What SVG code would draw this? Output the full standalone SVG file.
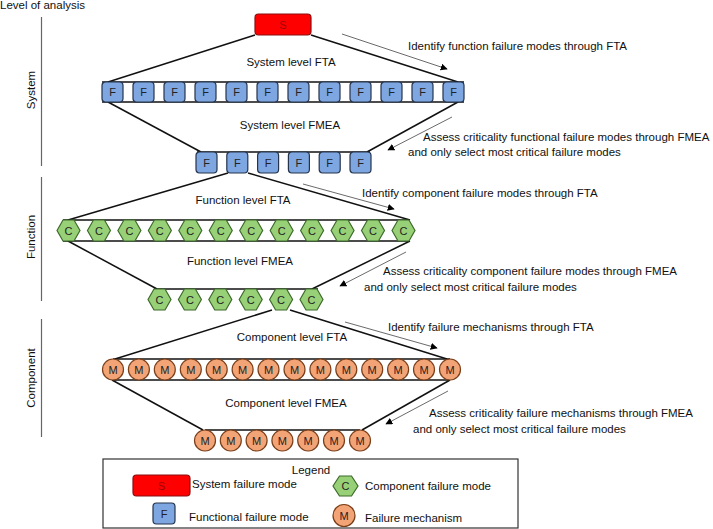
<svg xmlns="http://www.w3.org/2000/svg" width="713" height="529" viewBox="0 0 713 529">
<style>
text{font-family:"Liberation Sans",Arial,sans-serif;font-size:11.5px;fill:#111}
.mid{text-anchor:middle}
.lvl{stroke:#666;stroke-width:1.2}
.edge{stroke:#111;stroke-width:1.5;fill:none}
.arr{stroke:#444;stroke-width:0.8;fill:none;marker-end:url(#ah)}
.s{fill:#ff0000;stroke:#8a1010;stroke-width:1.2}
.st{fill:#a00000;font-size:11px}
.f{fill:#7ea6e0;stroke:#25344d;stroke-width:1.2}
.c{fill:#97d077;stroke:#3d6a2a;stroke-width:1.2}
.m{fill:#f3a477;stroke:#7a3e18;stroke-width:1.2}
.nt{font-size:11px;text-anchor:middle;fill:#222}
.leg{fill:#fff;stroke:#333;stroke-width:1.2}
</style>
<defs>
<marker id="ah" viewBox="0 0 10 10" refX="9" refY="5" markerWidth="7" markerHeight="7" markerUnits="userSpaceOnUse" orient="auto">
<path d="M0,0 L10,5 L0,10 z" fill="#000"/>
</marker>
<rect id="fbox" width="21" height="20" rx="3.5" class="f"/>
<rect id="fbox2" width="21" height="21" rx="3.5" class="f"/>
<polygon id="hex" points="0,10.5 6,0 17,0 23,10.5 17,21 6,21" class="c"/>
<circle id="circ" r="10.5" class="m"/>
</defs>

<g id="level-labels">
<text x="0" y="9">Level of analysis</text>
<line class="lvl" x1="41.5" y1="17" x2="41.5" y2="166"/>
<line class="lvl" x1="41.5" y1="177" x2="41.5" y2="301"/>
<line class="lvl" x1="41.5" y1="319" x2="41.5" y2="437"/>
<text class="mid" transform="translate(35,90) rotate(-90)">System</text>
<text class="mid" transform="translate(35,237) rotate(-90)">Function</text>
<text class="mid" transform="translate(35,378) rotate(-90)">Component</text>
</g>

<g id="connectors">
<line class="edge" x1="255" y1="35" x2="108" y2="82"/>
<line class="edge" x1="311" y1="35" x2="458" y2="82"/>
<line class="edge" x1="102" y1="82" x2="464" y2="82"/>
<line class="edge" x1="102" y1="102" x2="464" y2="102"/>
<line class="edge" x1="108" y1="102" x2="201" y2="152"/>
<line class="edge" x1="458" y1="102" x2="367" y2="152"/>
<line class="edge" x1="197" y1="152" x2="370" y2="152"/>
<line class="edge" x1="228" y1="173" x2="68" y2="220"/>
<line class="edge" x1="248" y1="173" x2="410" y2="220"/>
<line class="edge" x1="63" y1="220" x2="409" y2="220"/>
<line class="edge" x1="63" y1="241" x2="409" y2="241"/>
<line class="edge" x1="68" y1="241" x2="157" y2="289"/>
<line class="edge" x1="410" y1="241" x2="312" y2="289"/>
<line class="edge" x1="154" y1="289" x2="318" y2="289"/>
<line class="edge" x1="272" y1="310" x2="115" y2="359"/>
<line class="edge" x1="290" y1="310" x2="447" y2="359"/>
<line class="edge" x1="113" y1="359" x2="450" y2="359"/>
<line class="edge" x1="113" y1="380" x2="450" y2="380"/>
<line class="edge" x1="112" y1="380" x2="203" y2="430"/>
<line class="edge" x1="450" y1="380" x2="362" y2="430"/>
<line class="edge" x1="205" y1="430" x2="360" y2="430"/>
<line class="arr" x1="342" y1="34" x2="447" y2="69"/>
<line class="arr" x1="452" y1="117" x2="388" y2="150"/>
<line class="arr" x1="303" y1="184" x2="394" y2="209"/>
<line class="arr" x1="406" y1="252" x2="340" y2="286"/>
<line class="arr" x1="345" y1="322" x2="437" y2="348"/>
<line class="arr" x1="448" y1="391" x2="386" y2="424"/>
</g>

<g id="labels">
<text class="mid" x="291" y="66">System level FTA</text>
<text class="mid" x="290" y="129">System level FMEA</text>
<text class="mid" x="243" y="204">Function level FTA</text>
<text class="mid" x="240" y="265">Function level FMEA</text>
<text class="mid" x="292" y="341">Component level FTA</text>
<text class="mid" x="286" y="407">Component level FMEA</text>
<text x="408" y="50">Identify function failure modes through FTA</text>
<text x="423" y="141">Assess criticality functional failure modes through FMEA</text>
<text x="408" y="156">and only select most critical failure modes</text>
<text x="362" y="197">Identify component failure modes through FTA</text>
<text x="383" y="275">Assess criticality component failure modes through FMEA</text>
<text x="364" y="291">and only select most critical failure modes</text>
<text x="388" y="331">Identify failure mechanisms through FTA</text>
<text x="429" y="417">Assess criticality failure mechanisms through FMEA</text>
<text x="413" y="433">and only select most critical failure modes</text>
</g>

<g id="node-S"><rect class="s" x="255" y="14" width="56" height="21" rx="3.5"/><text class="st mid" x="283" y="29">S</text></g>

<g id="row-F1">
<g id="F1-1"><use href="#fbox" x="102" y="82"/><text class="nt" x="112.5" y="96">F</text></g>
<g id="F1-2"><use href="#fbox" x="133" y="82"/><text class="nt" x="143.5" y="96">F</text></g>
<g id="F1-3"><use href="#fbox" x="164" y="82"/><text class="nt" x="174.5" y="96">F</text></g>
<g id="F1-4"><use href="#fbox" x="195" y="82"/><text class="nt" x="205.5" y="96">F</text></g>
<g id="F1-5"><use href="#fbox" x="226" y="82"/><text class="nt" x="236.5" y="96">F</text></g>
<g id="F1-6"><use href="#fbox" x="257" y="82"/><text class="nt" x="267.5" y="96">F</text></g>
<g id="F1-7"><use href="#fbox" x="288" y="82"/><text class="nt" x="298.5" y="96">F</text></g>
<g id="F1-8"><use href="#fbox" x="319" y="82"/><text class="nt" x="329.5" y="96">F</text></g>
<g id="F1-9"><use href="#fbox" x="350" y="82"/><text class="nt" x="360.5" y="96">F</text></g>
<g id="F1-10"><use href="#fbox" x="381" y="82"/><text class="nt" x="391.5" y="96">F</text></g>
<g id="F1-11"><use href="#fbox" x="412" y="82"/><text class="nt" x="422.5" y="96">F</text></g>
<g id="F1-12"><use href="#fbox" x="443" y="82"/><text class="nt" x="453.5" y="96">F</text></g>
</g>

<g id="row-F2">
<g id="F2-1"><use href="#fbox2" x="196" y="152"/><text class="nt" x="206.5" y="166.5">F</text></g>
<g id="F2-2"><use href="#fbox2" x="226.8" y="152"/><text class="nt" x="237.3" y="166.5">F</text></g>
<g id="F2-3"><use href="#fbox2" x="257.6" y="152"/><text class="nt" x="268.1" y="166.5">F</text></g>
<g id="F2-4"><use href="#fbox2" x="288.4" y="152"/><text class="nt" x="298.9" y="166.5">F</text></g>
<g id="F2-5"><use href="#fbox2" x="319.2" y="152"/><text class="nt" x="329.7" y="166.5">F</text></g>
<g id="F2-6"><use href="#fbox2" x="350" y="152"/><text class="nt" x="360.5" y="166.5">F</text></g>
</g>

<g id="row-C1">
<g id="C1-1"><use href="#hex" x="57" y="220"/><text class="nt" x="68.5" y="234.5">C</text></g>
<g id="C1-2"><use href="#hex" x="87.45" y="220"/><text class="nt" x="98.95" y="234.5">C</text></g>
<g id="C1-3"><use href="#hex" x="117.9" y="220"/><text class="nt" x="129.4" y="234.5">C</text></g>
<g id="C1-4"><use href="#hex" x="148.35" y="220"/><text class="nt" x="159.85" y="234.5">C</text></g>
<g id="C1-5"><use href="#hex" x="178.8" y="220"/><text class="nt" x="190.3" y="234.5">C</text></g>
<g id="C1-6"><use href="#hex" x="209.25" y="220"/><text class="nt" x="220.75" y="234.5">C</text></g>
<g id="C1-7"><use href="#hex" x="239.7" y="220"/><text class="nt" x="251.2" y="234.5">C</text></g>
<g id="C1-8"><use href="#hex" x="270.15" y="220"/><text class="nt" x="281.65" y="234.5">C</text></g>
<g id="C1-9"><use href="#hex" x="300.6" y="220"/><text class="nt" x="312.1" y="234.5">C</text></g>
<g id="C1-10"><use href="#hex" x="331.05" y="220"/><text class="nt" x="342.55" y="234.5">C</text></g>
<g id="C1-11"><use href="#hex" x="361.5" y="220"/><text class="nt" x="373" y="234.5">C</text></g>
<g id="C1-12"><use href="#hex" x="392" y="220"/><text class="nt" x="403.5" y="234.5">C</text></g>
</g>

<g id="row-C2">
<g id="C2-1"><use href="#hex" x="148" y="289"/><text class="nt" x="159.5" y="303.5">C</text></g>
<g id="C2-2"><use href="#hex" x="178.4" y="289"/><text class="nt" x="189.9" y="303.5">C</text></g>
<g id="C2-3"><use href="#hex" x="208.8" y="289"/><text class="nt" x="220.3" y="303.5">C</text></g>
<g id="C2-4"><use href="#hex" x="239.2" y="289"/><text class="nt" x="250.7" y="303.5">C</text></g>
<g id="C2-5"><use href="#hex" x="269.6" y="289"/><text class="nt" x="281.1" y="303.5">C</text></g>
<g id="C2-6"><use href="#hex" x="300" y="289"/><text class="nt" x="311.5" y="303.5">C</text></g>
</g>

<g id="row-M1">
<g id="M1-1"><use href="#circ" x="113" y="369.5"/><text class="nt" x="113" y="373.5">M</text></g>
<g id="M1-2"><use href="#circ" x="138.9" y="369.5"/><text class="nt" x="138.9" y="373.5">M</text></g>
<g id="M1-3"><use href="#circ" x="164.8" y="369.5"/><text class="nt" x="164.8" y="373.5">M</text></g>
<g id="M1-4"><use href="#circ" x="190.8" y="369.5"/><text class="nt" x="190.8" y="373.5">M</text></g>
<g id="M1-5"><use href="#circ" x="216.7" y="369.5"/><text class="nt" x="216.7" y="373.5">M</text></g>
<g id="M1-6"><use href="#circ" x="242.6" y="369.5"/><text class="nt" x="242.6" y="373.5">M</text></g>
<g id="M1-7"><use href="#circ" x="268.5" y="369.5"/><text class="nt" x="268.5" y="373.5">M</text></g>
<g id="M1-8"><use href="#circ" x="294.5" y="369.5"/><text class="nt" x="294.5" y="373.5">M</text></g>
<g id="M1-9"><use href="#circ" x="320.4" y="369.5"/><text class="nt" x="320.4" y="373.5">M</text></g>
<g id="M1-10"><use href="#circ" x="346.3" y="369.5"/><text class="nt" x="346.3" y="373.5">M</text></g>
<g id="M1-11"><use href="#circ" x="372.2" y="369.5"/><text class="nt" x="372.2" y="373.5">M</text></g>
<g id="M1-12"><use href="#circ" x="398.1" y="369.5"/><text class="nt" x="398.1" y="373.5">M</text></g>
<g id="M1-13"><use href="#circ" x="424" y="369.5"/><text class="nt" x="424" y="373.5">M</text></g>
<g id="M1-14"><use href="#circ" x="450" y="369.5"/><text class="nt" x="450" y="373.5">M</text></g>
</g>

<g id="row-M2">
<g id="M2-1"><use href="#circ" x="205" y="440.5"/><text class="nt" x="205" y="444.5">M</text></g>
<g id="M2-2"><use href="#circ" x="230.8" y="440.5"/><text class="nt" x="230.8" y="444.5">M</text></g>
<g id="M2-3"><use href="#circ" x="256.6" y="440.5"/><text class="nt" x="256.6" y="444.5">M</text></g>
<g id="M2-4"><use href="#circ" x="282.4" y="440.5"/><text class="nt" x="282.4" y="444.5">M</text></g>
<g id="M2-5"><use href="#circ" x="308.2" y="440.5"/><text class="nt" x="308.2" y="444.5">M</text></g>
<g id="M2-6"><use href="#circ" x="334" y="440.5"/><text class="nt" x="334" y="444.5">M</text></g>
<g id="M2-7"><use href="#circ" x="360" y="440.5"/><text class="nt" x="360" y="444.5">M</text></g>
</g>

<g id="legend">
<rect class="leg" x="103" y="459" width="415" height="69"/>
<text class="mid" x="311" y="474">Legend</text>
<rect class="s" x="133" y="475" width="57" height="21" rx="3.5"/><text class="st mid" x="161.5" y="490">S</text>
<text x="192" y="488">System failure mode</text>
<rect class="f" x="153" y="503" width="22" height="21" rx="3.5"/><text class="nt" x="164" y="517.5">F</text>
<text x="189" y="521">Functional failure mode</text>
<polygon class="c" points="333,486 339.5,476 351.5,476 358,486 351.5,496 339.5,496"/><text class="nt" x="345.5" y="490">C</text>
<text x="365" y="490">Component failure mode</text>
<circle class="m" cx="344" cy="515.5" r="11"/><text class="nt" x="344" y="519.5">M</text>
<text x="365" y="522">Failure mechanism</text>
</g>
</svg>
